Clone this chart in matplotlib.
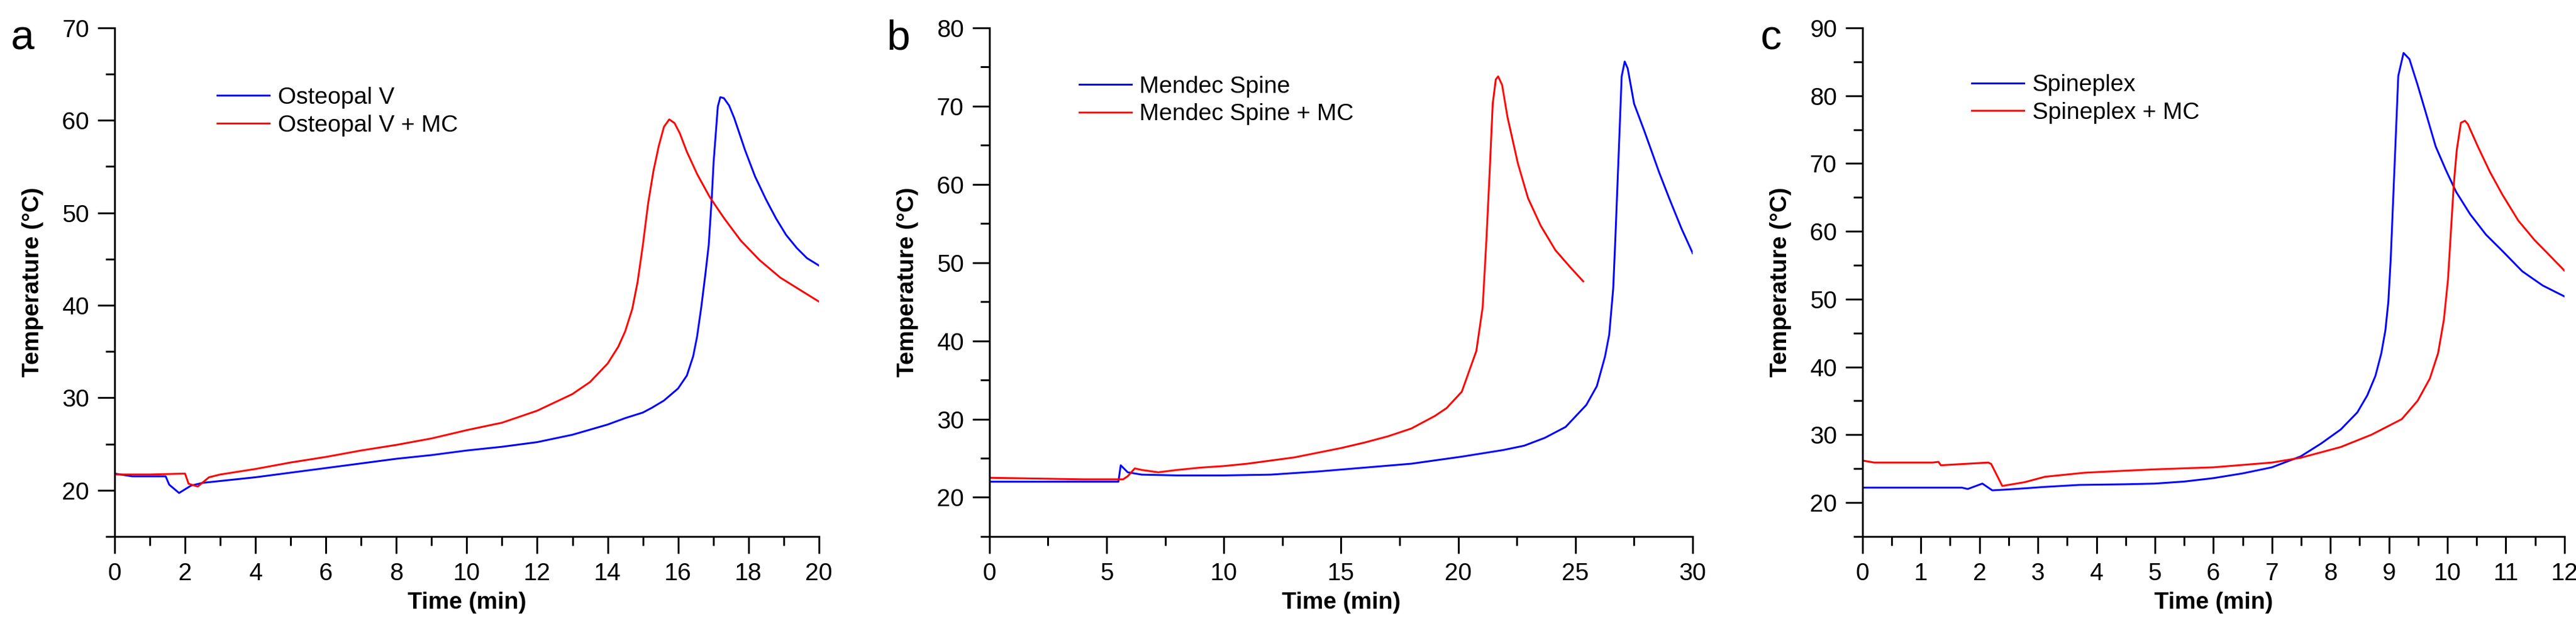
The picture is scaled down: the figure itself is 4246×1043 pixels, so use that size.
import matplotlib
matplotlib.use('Agg')
import matplotlib.pyplot as plt
from matplotlib.ticker import MultipleLocator

plt.rcParams['font.family'] = ['Liberation Sans', 'DejaVu Sans']

# panel a - Osteopal V
a_blue_t = [0, 0.5, 1.0, 1.45, 1.55, 1.83, 2.17, 2.5, 3, 4, 5, 6, 7, 8, 9, 10, 11, 12, 13, 14,
            14.5, 15, 15.25, 15.6, 16.0, 16.25, 16.43, 16.54, 16.66, 16.78, 16.87, 16.96, 17.01,
            17.07, 17.13, 17.2, 17.3, 17.45, 17.6, 17.9, 18.19, 18.49, 18.78, 19.07, 19.37,
            19.66, 20]
a_blue = [21.8, 21.5, 21.5, 21.5, 20.6, 19.7, 20.5, 20.8, 21.0, 21.4, 21.9, 22.4, 22.9, 23.4,
          23.8, 24.3, 24.7, 25.2, 26.0, 27.1, 27.8, 28.4, 28.9, 29.7, 31.0, 32.4, 34.5, 36.6,
          39.8, 43.5, 46.5, 51.8, 55.5, 58.5, 61.5, 62.5, 62.4, 61.6, 60.2, 56.8, 53.9, 51.5,
          49.4, 47.6, 46.2, 45.1, 44.3]
a_red_t = [0, 1, 2.0, 2.1, 2.36, 2.68, 3, 4, 5, 6, 7, 8, 9, 10, 11, 12, 13, 13.5, 14, 14.3,
           14.5, 14.7, 14.85, 15.0, 15.15, 15.3, 15.45, 15.6, 15.75, 15.9, 16.05, 16.25, 16.54,
           16.9, 17.31, 17.78, 18.31, 18.9, 19.49, 20]
a_red = [21.7, 21.7, 21.8, 20.7, 20.4, 21.4, 21.7, 22.3, 23.0, 23.6, 24.3, 24.9, 25.6, 26.5,
         27.3, 28.6, 30.4, 31.7, 33.7, 35.5, 37.2, 39.6, 42.5, 46.5, 51.0, 54.5, 57.2, 59.3,
         60.1, 59.7, 58.6, 56.6, 54.2, 51.7, 49.4, 47.0, 44.9, 43.0, 41.6, 40.4]

# panel b - Mendec Spine
b_blue_t = [0, 2, 4, 5.5, 5.6, 5.9, 6.5, 8, 10, 12, 14, 16, 18, 20.15, 21.92, 22.81, 23.69,
            24.58, 25.46, 25.91, 26.26, 26.44, 26.61, 26.7, 26.79, 26.88, 26.97, 27.1, 27.23,
            27.5, 27.94, 28.56, 29.0, 29.53, 30]
b_blue = [22.0, 22.0, 22.0, 22.0, 24.1, 23.2, 22.9, 22.8, 22.8, 22.9, 23.3, 23.8, 24.3, 25.2,
          26.05, 26.6, 27.6, 29.0, 31.8, 34.2, 38.0, 40.8, 46.7, 53.0, 59.9, 66.8, 73.8, 75.7,
          74.8, 70.3, 66.8, 61.6, 58.2, 54.3, 51.2]
b_red_t = [0, 2, 4, 5.7, 5.9, 6.2, 6.5, 7.2, 8, 9, 10, 11, 12, 13, 14, 15, 16, 17, 18, 19,
           19.5, 20.15, 20.77, 21.04, 21.2, 21.34, 21.47, 21.6, 21.7, 21.87, 22.1, 22.54, 22.98,
           23.52, 24.14, 24.75, 25.33]
b_red = [22.5, 22.4, 22.3, 22.3, 22.7, 23.7, 23.5, 23.2, 23.5, 23.8, 24.0, 24.3, 24.7, 25.1,
         25.7, 26.3, 27.0, 27.8, 28.8, 30.4, 31.4, 33.5, 38.7, 44.3, 52.9, 61.6, 70.3, 73.4,
         73.8, 72.7, 68.6, 62.7, 58.2, 54.7, 51.6, 49.5, 47.6]

# panel c - Spineplex
c_blue_t = [0, 1.0, 1.7, 1.8, 2.05, 2.22, 2.43, 2.78, 3.1, 3.7, 4.5, 5, 5.5, 6, 6.5, 7, 7.49,
            7.84, 8.18, 8.46, 8.63, 8.77, 8.87, 8.94, 8.99, 9.03, 9.06, 9.1, 9.13, 9.16, 9.25,
            9.35, 9.49, 9.63, 9.8, 9.97, 10.15, 10.39, 10.66, 10.94, 11.28, 11.63, 12]
c_blue = [22.2, 22.2, 22.2, 22.0, 22.8, 21.8, 21.9, 22.1, 22.3, 22.6, 22.7, 22.8, 23.1, 23.6,
          24.3, 25.2, 26.8, 28.7, 30.8, 33.3, 35.8, 38.7, 42.0, 45.4, 49.6, 55.8, 62.1, 70.4,
          76.6, 82.9, 86.3, 85.4, 81.6, 77.5, 72.5, 69.1, 65.8, 62.5, 59.5, 57.1, 54.1, 52.0,
          50.4]
c_red_t = [0, 0.2, 1.2, 1.3, 1.34, 2.15, 2.2, 2.39, 2.77, 3.12, 3.8, 4.5, 5, 6, 7, 7.49, 8.18,
           8.7, 9.22, 9.49, 9.7, 9.84, 9.94, 10.01, 10.06, 10.11, 10.16, 10.23, 10.3, 10.35,
           10.52, 10.73, 10.94, 11.21, 11.49, 11.73, 12]
c_red = [26.2, 25.9, 25.9, 26.0, 25.5, 25.9, 25.7, 22.45, 23.0, 23.8, 24.4, 24.7, 24.9, 25.2,
         25.9, 26.6, 28.2, 30.0, 32.3, 35.0, 38.3, 42.0, 47.0, 52.9, 60.0, 67.0, 72.0, 76.0,
         76.3, 75.8, 72.5, 68.7, 65.4, 61.6, 58.7, 56.6, 54.2]

labels_a = ['Osteopal V', 'Osteopal V + MC']
labels_b = ['Mendec Spine', 'Mendec Spine + MC']
labels_c = ['Spineplex', 'Spineplex + MC']


def panel(ax, t1, y1, t2, y2, names, xmax, xmaj, ymax, leg_xy):
    ax.plot(t1, y1, color='#0000ff', lw=2.2, label=names[0])
    ax.plot(t2, y2, color='#ff0000', lw=2.2, label=names[1])
    ax.set_xlim(0, xmax)
    ax.set_ylim(15, ymax)
    ax.xaxis.set_major_locator(MultipleLocator(xmaj))
    ax.xaxis.set_minor_locator(MultipleLocator(xmaj / 2))
    ax.yaxis.set_minor_locator(MultipleLocator(5))
    ax.set_yticks([v for v in range(20, ymax + 1, 10)])
    for s in ['top', 'right']:
        ax.spines[s].set_visible(False)
    for s in ['left', 'bottom']:
        ax.spines[s].set_linewidth(2.2)
    ax.tick_params(which='major', direction='out', length=20, width=2.2, labelsize=29, pad=10)
    ax.tick_params(which='minor', direction='out', length=11, width=2.2)
    ax.set_xlabel('Time (min)', fontsize=28, fontweight='bold', labelpad=8)
    ax.set_ylabel('Temperature (°C)', fontsize=28, fontweight='bold', labelpad=22)
    ax.legend(loc='upper left', bbox_to_anchor=leg_xy, frameon=False, fontsize=28,
              handlelength=2.2, handletextpad=0.35, labelspacing=0.25, borderpad=0,
              borderaxespad=0)


fig = plt.figure(figsize=(42.46, 10.43), dpi=100)
ax1 = fig.add_axes([0.0445, 0.1525, 0.2734, 0.8035])
ax2 = fig.add_axes([0.3841, 0.1525, 0.2730, 0.8035])
ax3 = fig.add_axes([0.7230, 0.1525, 0.2725, 0.8035])

panel(ax1, a_blue_t, a_blue, a_red_t, a_red, labels_a, 20, 2, 70, (0.146, 0.884))
panel(ax2, b_blue_t, b_blue, b_red_t, b_red, labels_b, 30, 5, 80, (0.128, 0.906))
panel(ax3, c_blue_t, c_blue, c_red_t, c_red, labels_c, 12, 1, 90, (0.156, 0.909))

fig.text(37 / 4246, 1 - 64 / 1043, 'a', fontsize=50, ha='center', va='center')
fig.text(1481 / 4246, 1 - 64 / 1043, 'b', fontsize=50, ha='center', va='center')
fig.text(2919 / 4246, 1 - 64 / 1043, 'c', fontsize=50, ha='center', va='center')

fig.savefig('out.png', dpi=100)
